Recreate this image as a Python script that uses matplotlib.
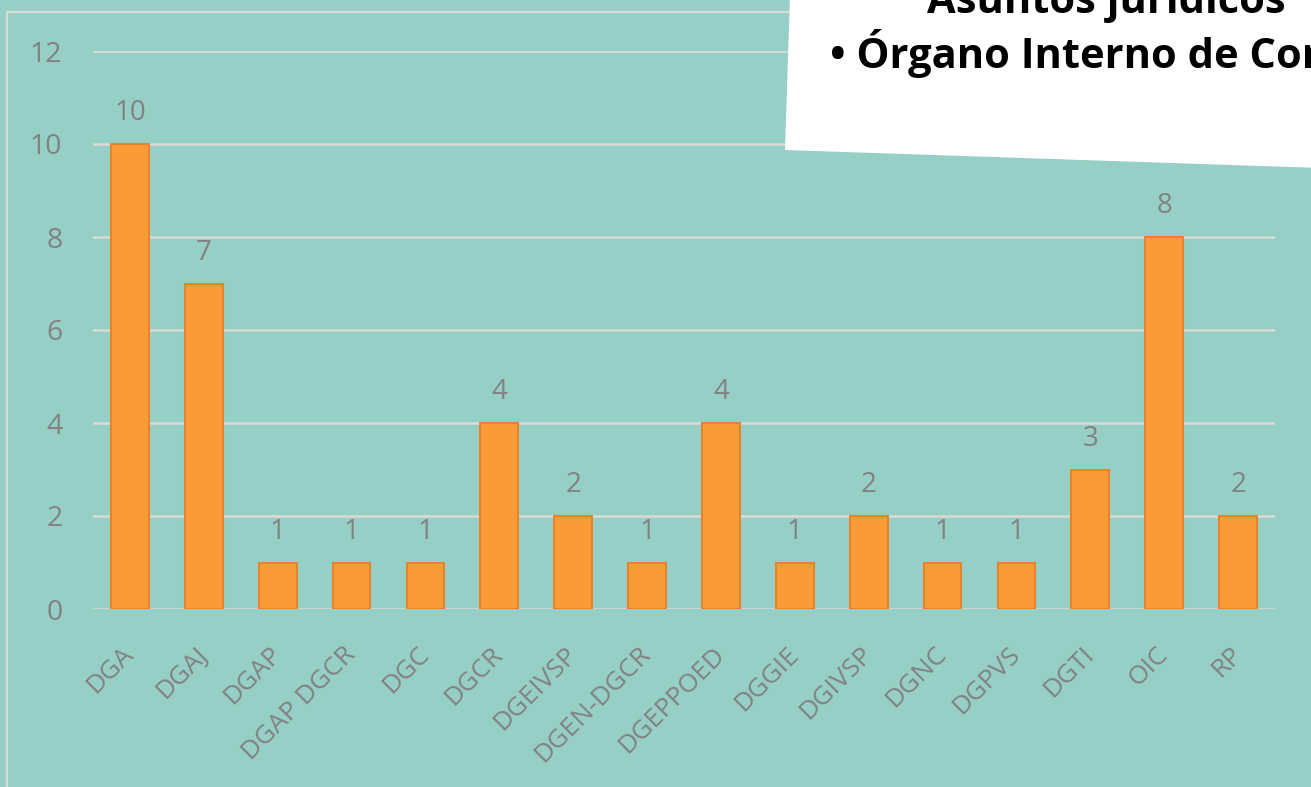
import matplotlib
matplotlib.use("Agg")
import matplotlib.pyplot as plt
from matplotlib.patches import Polygon
from matplotlib.lines import Line2D

categories = ["DGA", "DGAJ", "DGAP", "DGAP DGCR", "DGC", "DGCR", "DGEIVSP", "DGEN-DGCR",
              "DGEPPOED", "DGGIE", "DGIVSP", "DGNC", "DGPVS", "DGTI", "OIC", "RP"]
values = [10, 7, 1, 1, 1, 4, 2, 1, 4, 1, 2, 1, 1, 3, 8, 2]
yticks = [0, 2, 4, 6, 8, 10, 12]
overlay_lines = ["Asuntos jurídicos", "• Órgano Interno de Control"]

BG = "#96cfc6"
BAR = "#fb9b38"
EDGE = "#e8822c"
GRID = "#d8dad6"
TXT = "#828282"

plt.rcParams["font.family"] = ["Open Sans", "DejaVu Sans"]

fig = plt.figure(figsize=(13.11, 7.87), dpi=100)
fig.patch.set_facecolor(BG)
ax = fig.add_axes([93/1311, 1-609/787, (1275-93)/1311, (609-51)/787])
ax.set_facecolor(BG)

x = list(range(len(categories)))
ax.bar(x, values, width=0.51, color=BAR, edgecolor=EDGE, linewidth=1.5, zorder=3)
for xi, v in zip(x, values):
    ax.annotate(str(v), (xi, v), xytext=(0, 12), textcoords="offset points",
                ha="center", va="bottom", fontsize=20, color=TXT)

ax.set_xlim(-0.5, len(categories) - 0.5)
ax.set_ylim(0, 12)
ax.set_yticks(yticks)
ax.set_yticklabels([str(t) for t in yticks], fontsize=20.5, color=TXT)
ax.set_xticks(x)
ax.set_xticklabels(categories, rotation=45, ha="right", va="center",
                   rotation_mode="anchor", fontsize=19, color=TXT)
ax.tick_params(axis="both", length=0)
ax.tick_params(axis="y", pad=22)
ax.tick_params(axis="x", pad=30)
ax.yaxis.grid(True, color=GRID, linewidth=1.8, zorder=0)
ax.set_axisbelow(True)
for s in ax.spines.values():
    s.set_visible(False)

# frame lines
fig.add_artist(Line2D([7/1311, 7/1311], [1-12/787, 0], color=GRID, lw=1.6,
                      transform=fig.transFigure))
fig.add_artist(Line2D([7/1311, 790/1311], [1-12/787, 1-12/787], color=GRID, lw=1.6,
                      transform=fig.transFigure))

# white overlay
pts = [(790, -5), (1320, -5), (1320, 168), (785, 150)]
poly = Polygon([(px/1311, 1-py/787) for px, py in pts], closed=True,
               facecolor="white", edgecolor="none", transform=fig.transFigure, zorder=10)
fig.add_artist(poly)
fig.text(1106/1311, 1-13/787, overlay_lines[0], ha="center", va="baseline",
         fontsize=30, fontweight="bold", color="black", zorder=11)
fig.text(830/1311, 1-68/787, overlay_lines[1], ha="left", va="baseline",
         fontsize=30, fontweight="bold", color="black", zorder=11)

fig.savefig("out.png", dpi=100, facecolor=BG)
